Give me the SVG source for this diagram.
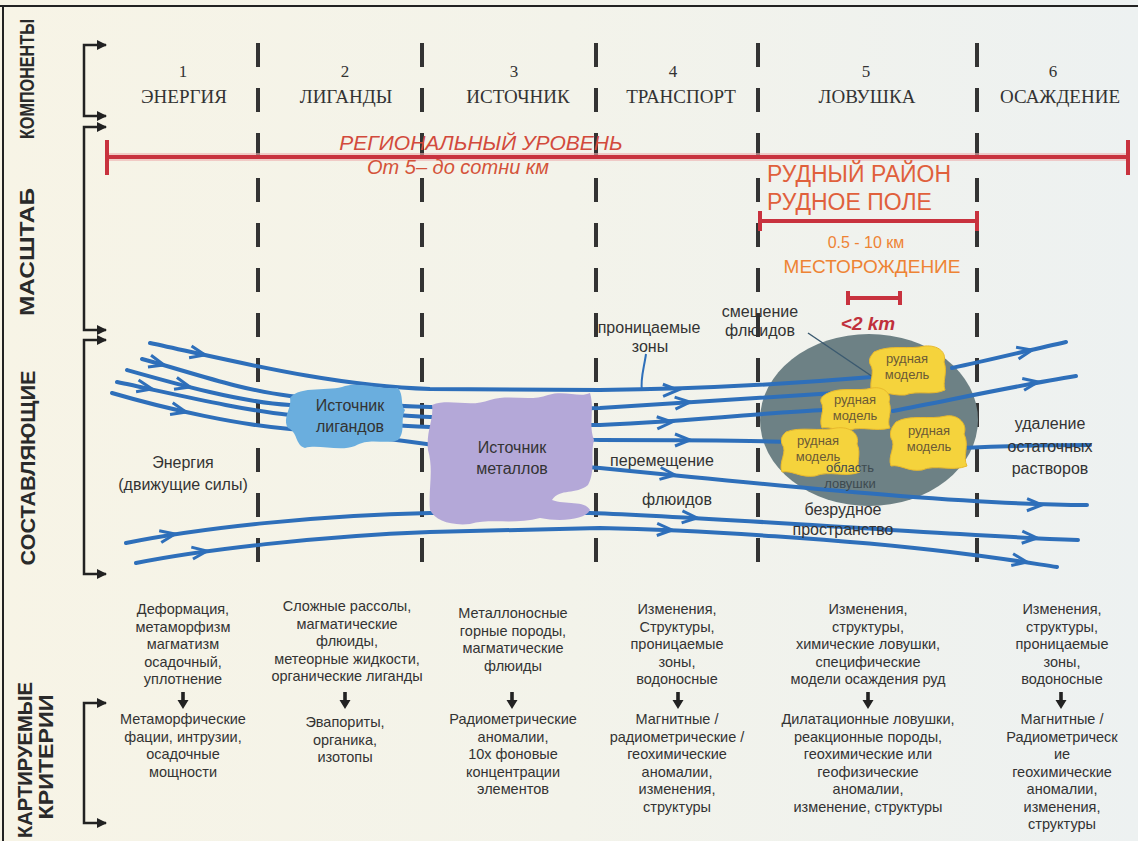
<svg xmlns="http://www.w3.org/2000/svg" width="1138" height="841" viewBox="0 0 1138 841">
<defs>
<linearGradient id="bg" x1="0" y1="0" x2="1" y2="0">
<stop offset="0" stop-color="#f7f4e6"/>
<stop offset="0.5" stop-color="#f3f3ea"/>
<stop offset="1" stop-color="#edf1f1"/>
</linearGradient>
<marker id="ah" viewBox="0 0 10 10" refX="9" refY="5" markerWidth="4" markerHeight="4" orient="auto-start-reverse"><path d="M0,0 L10,5 L0,10 Z" fill="#222"/></marker>
<path id="chev" d="M-15,-6 L0,0 L-15,6" fill="none" stroke="#2e6fba" stroke-width="3"/>
<path id="down" d="M-1.8,0 H1.8 V8 H5.5 L0,17 L-5.5,8 H-1.8 Z" fill="#222"/>
</defs>
<style>
.lbl{font-family:"Liberation Sans",Arial,sans-serif;font-weight:bold;font-size:20px;fill:#2a2a2a;text-anchor:middle;dominant-baseline:central}
.hdr{font-family:"Liberation Serif","Times New Roman",serif;font-size:19px;fill:#333;text-anchor:middle}
.num{font-family:"Liberation Serif","Times New Roman",serif;font-size:17px;fill:#333;text-anchor:middle}
.dash{stroke:#333;stroke-width:4;stroke-dasharray:24 21;fill:none}
.br{stroke:#222;stroke-width:2.5;fill:none;marker-start:url(#ah);marker-end:url(#ah)}
.fl{stroke:#2e6fba;stroke-width:4;fill:none;stroke-linecap:round}
.mid{font-family:"Liberation Sans",Arial,sans-serif;font-size:16px;fill:#333;text-anchor:middle}
.bot{font-family:"Liberation Sans",Arial,sans-serif;font-size:14.5px;fill:#333;text-anchor:middle}
.ore{font-family:"Liberation Sans",Arial,sans-serif;font-size:13px;fill:#6b5a36;text-anchor:middle}
.red{stroke:#c8323e;stroke-width:4;fill:none}
.yb{fill:#f5d33c;stroke:#e9b92c;stroke-width:1}
</style>
<rect x="0" y="0" width="1138" height="841" fill="url(#bg)"/>
<path d="M0,6 H1138 M3,6 V841" stroke="#222" stroke-width="2" fill="none"/>

<!-- side labels -->
<g id="side-labels">
<text class="lbl" x="27" y="79" transform="rotate(-90 27 79)" font-size="18" textLength="120" lengthAdjust="spacingAndGlyphs">КОМПОНЕНТЫ</text>
<text class="lbl" x="27" y="252" transform="rotate(-90 27 252)" textLength="128" lengthAdjust="spacingAndGlyphs">МАСШТАБ</text>
<text class="lbl" x="28" y="468" transform="rotate(-90 28 468)" textLength="195" lengthAdjust="spacingAndGlyphs">СОСТАВЛЯЮЩИЕ</text>
<text class="lbl" x="25" y="760" transform="rotate(-90 25 760)" textLength="156" lengthAdjust="spacingAndGlyphs">КАРТИРУЕМЫЕ</text>
<text class="lbl" x="46" y="757" transform="rotate(-90 46 757)" textLength="125" lengthAdjust="spacingAndGlyphs">КРИТЕРИИ</text>
</g>

<!-- brackets -->
<g id="brackets">
<path class="br" d="M106,45 H84 V116 H106"/>
<path class="br" d="M106,127 H84 V330 H106"/>
<path class="br" d="M106,340 H84 V574 H106"/>
<path class="br" d="M106,703 H84 V823 H106"/>
</g>

<!-- column dividers -->
<g id="dividers">
<path class="dash" d="M258,43 V580 M422,43 V580 M596,43 V580 M758,43 V580 M977,43 V580"/>
</g>

<!-- headers -->
<g id="headers">
<text class="num" x="183" y="77">1</text><text class="hdr" x="184" y="103">ЭНЕРГИЯ</text>
<text class="num" x="345" y="77">2</text><text class="hdr" x="346" y="103">ЛИГАНДЫ</text>
<text class="num" x="514" y="77">3</text><text class="hdr" x="518" y="103">ИСТОЧНИК</text>
<text class="num" x="673" y="77">4</text><text class="hdr" x="681" y="103">ТРАНСПОРТ</text>
<text class="num" x="866" y="77">5</text><text class="hdr" x="867" y="103">ЛОВУШКА</text>
<text class="num" x="1053" y="77">6</text><text class="hdr" x="1060" y="103">ОСАЖДЕНИЕ</text>
</g>

<!-- scale bars -->
<g id="scale">
<path d="M107,157 H1128" stroke="#eeb0b0" stroke-width="8" opacity="0.6"/>
<path class="red" d="M107,157 H1128 M107,140 V175 M1128,140 V175"/>
<text x="481" y="150" font-family="Liberation Sans,Arial,sans-serif" font-style="italic" font-size="21" fill="#d24a3c" text-anchor="middle">РЕГИОНАЛЬНЫЙ УРОВЕНЬ</text>
<text x="458" y="174" font-family="Liberation Sans,Arial,sans-serif" font-style="italic" font-size="20" fill="#d4533a" text-anchor="middle">От 5– до сотни км</text>
<text x="767" y="182" font-family="Liberation Sans,Arial,sans-serif" font-size="23" fill="#e0603c">РУДНЫЙ РАЙОН</text>
<text x="767" y="210" font-family="Liberation Sans,Arial,sans-serif" font-size="23" fill="#e0603c">РУДНОЕ ПОЛЕ</text>
<path class="red" d="M760,221 H977 M760,211 V231 M977,211 V231" stroke-width="3"/>
<text x="866" y="248" font-family="Liberation Sans,Arial,sans-serif" font-size="16" fill="#ee8334" text-anchor="middle">0.5 - 10 км</text>
<text x="872" y="273" font-family="Liberation Sans,Arial,sans-serif" font-size="19" fill="#ee8334" text-anchor="middle">МЕСТОРОЖДЕНИЕ</text>
<path class="red" d="M848,298 H900 M848,291 V305 M900,291 V305" stroke-width="3.5"/>
<text x="868" y="330" font-family="Liberation Sans,Arial,sans-serif" font-style="italic" font-weight="bold" font-size="19" fill="#c0303c" text-anchor="middle">&lt;2 km</text>
</g>

<!-- trap ellipse -->
<g id="trap">
<ellipse cx="869" cy="420" rx="109" ry="86" fill="#6d8185"/>
</g>

<!-- connectors: fluid flow lines -->
<g id="connectors">
<path class="fl" d="M150,343 C230,360 330,386 430,389 L600,390 C700,389 800,383 872,377"/>
<path class="fl" d="M142,359 C190,372 240,390 290,396 C340,402 380,406 430,407 C500,409 560,409 600,408 C700,402 780,396 835,393"/>
<path class="fl" d="M127,370 C180,385 240,402 290,405 C350,410 390,416 430,417 C520,420 560,426 600,425 C700,421 770,412 825,410"/>
<path class="fl" d="M117,382 C170,393 240,410 290,415 C350,422 390,426 430,427 C520,432 560,440 600,440 C700,440 740,440 786,442"/>
<path class="fl" d="M112,393 C170,410 240,425 290,429 C350,434 400,440 440,446 C520,458 560,466 600,468 C680,476 800,488 900,496 C980,502 1040,505 1087,505"/>
<path class="fl" d="M126,543 C200,528 320,515 430,513 L590,513 C700,517 850,528 960,534 C1010,537 1050,539 1078,540"/>
<path class="fl" d="M136,563 C200,550 320,536 430,532 L600,528 C700,530 850,540 950,552 C1000,558 1030,563 1057,567"/>
<path class="fl" d="M952,368 C990,360 1030,350 1066,342"/>
<path class="fl" d="M893,411 C960,398 1020,385 1076,376"/>
<path class="fl" d="M962,448 C1010,446 1060,445 1090,445"/>
<use href="#chev" transform="translate(205,355) rotate(12)"/>
<use href="#chev" transform="translate(164,365) rotate(15)"/>
<use href="#chev" transform="translate(190,387) rotate(14)"/>
<use href="#chev" transform="translate(152,389) rotate(12)"/>
<use href="#chev" transform="translate(186,412) rotate(13)"/>
<use href="#chev" transform="translate(678,390) rotate(-1)"/>
<use href="#chev" transform="translate(690,402) rotate(-4)"/>
<use href="#chev" transform="translate(672,422) rotate(-3)"/>
<use href="#chev" transform="translate(690,440) rotate(0)"/>
<use href="#chev" transform="translate(675,475) rotate(6)"/>
<use href="#chev" transform="translate(1042,505) rotate(1)"/>
<use href="#chev" transform="translate(175,534) rotate(-10)"/>
<use href="#chev" transform="translate(697,518) rotate(4)"/>
<use href="#chev" transform="translate(1037,538) rotate(3)"/>
<use href="#chev" transform="translate(207,551) rotate(-8)"/>
<use href="#chev" transform="translate(672,530) rotate(2)"/>
<use href="#chev" transform="translate(1027,562) rotate(9)"/>
<use href="#chev" transform="translate(1032,350) rotate(-12)"/>
<use href="#chev" transform="translate(1038,382) rotate(-9)"/>
<path d="M646,354 C644,368 640,380 642,390" stroke="#2e6fba" stroke-width="2" fill="none"/>
<path d="M808,333 L873,377" stroke="#3b5a70" stroke-width="1.5" fill="none"/>
</g>

<!-- ligand source -->
<g id="ligand-source">
<path d="M290,398 C300,385 330,392 345,386 C362,382 380,390 398,388 C404,395 400,405 405,410 C400,420 406,432 398,440 C385,445 370,437 355,446 C340,452 318,444 305,448 C295,445 298,432 288,428 C282,418 292,408 290,398 Z" fill="#6aaede"/>
<text class="mid" x="350" y="411" font-size="15">Источник</text>
<text class="mid" x="350" y="432" font-size="15">лигандов</text>
</g>

<!-- metal source -->
<g id="metal-source">
<path d="M432,405 C450,398 470,408 490,400 C510,394 530,402 548,395 C565,390 580,398 590,393 C595,410 588,425 594,440 C590,455 596,470 588,485 C576,495 560,488 552,500 C565,505 585,500 590,510 C585,520 560,522 540,518 C515,525 490,518 470,524 C450,526 435,520 430,510 C428,490 434,470 428,450 C426,430 434,420 432,405 Z" fill="#b4a8d8"/>
<text class="mid" x="512" y="453" font-size="15.5">Источник</text>
<text class="mid" x="512" y="474" font-size="15.5">металлов</text>
</g>

<!-- ore bodies -->
<g id="ore-1">
<path class="yb" d="M874,352 C890,344 910,350 925,346 C938,345 947,352 944,362 C948,372 942,382 945,390 C932,396 918,390 905,395 C892,396 880,390 872,392 C868,382 876,372 870,364 C868,358 872,355 874,352 Z"/>
<text class="ore" x="907" y="363">рудная</text><text class="ore" x="907" y="379">модель</text>
</g>
<g id="ore-2">
<path class="yb" d="M826,394 C840,386 858,392 872,388 C884,386 892,394 889,402 C893,412 886,420 890,428 C876,432 862,426 850,430 C838,432 830,426 822,428 C818,418 826,410 821,402 C820,398 823,396 826,394 Z"/>
<text class="ore" x="855" y="404">рудная</text><text class="ore" x="855" y="420">модель</text>
</g>
<g id="ore-3">
<path class="yb" d="M786,432 C800,426 820,432 836,428 C850,426 860,434 857,444 C862,454 855,464 860,472 C845,478 830,470 815,476 C800,478 792,470 782,472 C778,462 788,452 782,444 C780,438 783,435 786,432 Z"/>
<text class="ore" x="818" y="445">рудная</text><text class="ore" x="818" y="461">модель</text>
</g>
<g id="ore-4">
<path class="yb" d="M896,422 C910,414 930,420 946,416 C958,414 968,424 964,434 C970,446 962,456 967,466 C952,472 936,464 922,470 C908,472 900,464 891,466 C887,456 897,446 891,438 C889,430 893,426 896,422 Z"/>
<text class="ore" x="929" y="435">рудная</text><text class="ore" x="929" y="451">модель</text>
</g>

<!-- middle labels -->
<g id="mid-labels">
<text class="mid" x="649" y="333">проницаемые</text>
<text class="mid" x="650" y="352">зоны</text>
<text class="mid" x="760" y="317">смешение</text>
<text class="mid" x="760" y="336">флюидов</text>
<text x="850" y="472" font-family="Liberation Sans,Arial,sans-serif" font-size="13" fill="#3d4a50" text-anchor="middle">область</text>
<text x="850" y="488" font-family="Liberation Sans,Arial,sans-serif" font-size="13" fill="#3d4a50" text-anchor="middle">ловушки</text>
<text class="mid" x="183" y="468">Энергия</text>
<text class="mid" x="183" y="490">(движущие силы)</text>
<text class="mid" x="662" y="466">перемещение</text>
<text class="mid" x="677" y="505">флюидов</text>
<text class="mid" x="843" y="515">безрудное</text>
<text class="mid" x="843" y="535">пространство</text>
<text class="mid" x="1050" y="429">удаление</text>
<text class="mid" x="1050" y="452">остаточных</text>
<text class="mid" x="1050" y="474">растворов</text>
</g>

<!-- mapped criteria -->
<g id="criteria-1">
<text class="bot" x="183" y="614"><tspan x="183">Деформация,</tspan><tspan x="183" dy="17.5">метаморфизм</tspan><tspan x="183" dy="17.5">магматизм</tspan><tspan x="183" dy="17.5">осадочный,</tspan><tspan x="183" dy="17.5">уплотнение</tspan></text>
<use href="#down" x="183" y="692"/>
<text class="bot" x="183" y="724"><tspan x="183">Метаморфические</tspan><tspan x="183" dy="17.5">фации, интрузии,</tspan><tspan x="183" dy="17.5">осадочные</tspan><tspan x="183" dy="17.5">мощности</tspan></text>
</g>
<g id="criteria-2">
<text class="bot" x="347" y="611"><tspan x="347">Сложные рассолы,</tspan><tspan x="347" dy="17.5">магматические</tspan><tspan x="347" dy="17.5">флюиды,</tspan><tspan x="347" dy="17.5">метеорные жидкости,</tspan><tspan x="347" dy="17.5">органические лиганды</tspan></text>
<use href="#down" x="345" y="692"/>
<text class="bot" x="345" y="727"><tspan x="345">Эвапориты,</tspan><tspan x="345" dy="17.5">органика,</tspan><tspan x="345" dy="17.5">изотопы</tspan></text>
</g>
<g id="criteria-3">
<text class="bot" x="513" y="618"><tspan x="513">Металлоносные</tspan><tspan x="513" dy="17.5">горные породы,</tspan><tspan x="513" dy="17.5">магматические</tspan><tspan x="513" dy="17.5">флюиды</tspan></text>
<use href="#down" x="512" y="692"/>
<text class="bot" x="513" y="724"><tspan x="513">Радиометрические</tspan><tspan x="513" dy="17.5">аномалии,</tspan><tspan x="513" dy="17.5">10x фоновые</tspan><tspan x="513" dy="17.5">концентрации</tspan><tspan x="513" dy="17.5">элементов</tspan></text>
</g>
<g id="criteria-4">
<text class="bot" x="677" y="614"><tspan x="677">Изменения,</tspan><tspan x="677" dy="17.5">Структуры,</tspan><tspan x="677" dy="17.5">проницаемые</tspan><tspan x="677" dy="17.5">зоны,</tspan><tspan x="677" dy="17.5">водоносные</tspan></text>
<use href="#down" x="678" y="692"/>
<text class="bot" x="677" y="724"><tspan x="677">Магнитные /</tspan><tspan x="677" dy="17.5">радиометрические /</tspan><tspan x="677" dy="17.5">геохимические</tspan><tspan x="677" dy="17.5">аномалии,</tspan><tspan x="677" dy="17.5">изменения,</tspan><tspan x="677" dy="17.5">структуры</tspan></text>
</g>
<g id="criteria-5">
<text class="bot" x="868" y="614"><tspan x="868">Изменения,</tspan><tspan x="868" dy="17.5">структуры,</tspan><tspan x="868" dy="17.5">химические ловушки,</tspan><tspan x="868" dy="17.5">специфические</tspan><tspan x="868" dy="17.5">модели осаждения руд</tspan></text>
<use href="#down" x="868" y="692"/>
<text class="bot" x="868" y="724"><tspan x="868">Дилатационные ловушки,</tspan><tspan x="868" dy="17.5">реакционные породы,</tspan><tspan x="868" dy="17.5">геохимические или</tspan><tspan x="868" dy="17.5">геофизические</tspan><tspan x="868" dy="17.5">аномалии,</tspan><tspan x="868" dy="17.5">изменение, структуры</tspan></text>
</g>
<g id="criteria-6">
<text class="bot" x="1062" y="614"><tspan x="1062">Изменения,</tspan><tspan x="1062" dy="17.5">структуры,</tspan><tspan x="1062" dy="17.5">проницаемые</tspan><tspan x="1062" dy="17.5">зоны,</tspan><tspan x="1062" dy="17.5">водоносные</tspan></text>
<use href="#down" x="1061" y="692"/>
<text class="bot" x="1062" y="724"><tspan x="1062">Магнитные /</tspan><tspan x="1062" dy="17.5">Радиометрическ</tspan><tspan x="1062" dy="17.5">ие</tspan><tspan x="1062" dy="17.5">геохимические</tspan><tspan x="1062" dy="17.5">аномалии,</tspan><tspan x="1062" dy="17.5">изменения,</tspan><tspan x="1062" dy="17.5">структуры</tspan></text>
</g>
</svg>
